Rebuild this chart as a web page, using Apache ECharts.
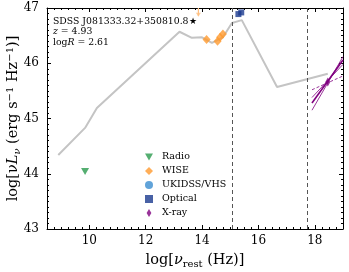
<!DOCTYPE html>
<html><head><meta charset="utf-8">
<script src="https://cdn.jsdelivr.net/npm/echarts@6/dist/echarts.min.js"></script>
<style>html,body{margin:0;padding:0;background:#fff}#c{width:349px;height:272px}</style>
</head><body><div id="c"></div>
<script>
// ---- data ----
const sedX = [8.9, 9.85, 10.27, 13.2, 13.64, 14.0, 14.35, 14.74, 15.06, 15.41, 16.66, 18.46];
const sedY = [44.34, 44.83, 45.19, 46.57, 46.46, 46.47, 46.37, 46.47, 46.73, 46.78, 45.57, 45.81];
const radioX = [9.85];
const radioY = [44.04];
const wiseX = [14.16, 14.55, 14.64, 14.74];
const wiseY = [46.43, 46.40, 46.47, 46.53];
const wiseLimX = [13.87, 13.87];
const wiseLimY = [47.0, 46.86];
const ukidssX = [];
const ukidssY = [];
const opticalX = [15.29, 15.39];
const opticalY = [46.89, 46.92];
const xrayX = [18.46];
const xrayY = [45.66];
const bowX = [17.9, 19.0];
const bowBest = [45.28, 46.06];
const bowSteep = [45.15, 46.12];
const bowShallow = [45.38, 45.98];
const bowDash = [45.52, 45.77];
const vlines = [15.07, 17.72];
const xTicks = [10, 12, 14, 16, 18];
const yTicks = [43, 44, 45, 46, 47];
const labelLines = ['SDSS J081333.32+350810.8\u2605', 'z = 4.93', 'logR = 2.61'];

const zip = (a, b) => a.map((v, i) => [v, b[i]]);
const F = 'DejaVu Serif';
const chart = echarts.init(document.getElementById('c'), null, {renderer: 'canvas'});

const xBase = {min: 8.5, max: 19, type: 'value', splitLine: {show: false}};
const yBase = {min: 43, max: 47, type: 'value', splitLine: {show: false}};
const axLine = {show: true, lineStyle: {color: '#000', width: 1}};

const option = {
  animation: false,
  grid: {left: 47, right: 6, top: 8, bottom: 43, containLabel: false, outerBoundsMode: 'none'},
  xAxis: [
    Object.assign({}, xBase, {position: 'bottom', axisLine: axLine,
      axisTick: {inside: true, length: 4, lineStyle: {color: '#000'}},
      axisLabel: {fontFamily: F, fontSize: 12, color: '#000', margin: 6, showMinLabel: false, showMaxLabel: false,
        formatter: v => xTicks.includes(v) ? String(v) : ''},
      name: '{n|log[}{i|\u03bd}{sub|rest}{n| (Hz)]}', nameLocation: 'middle', nameGap: 23, nameMoveOverlap: false,
      nameTextStyle: {fontFamily: F, color: '#000', rich: {
        n: {fontFamily: F, fontSize: 14.5, lineHeight: 17, color: '#000'},
        i: {fontFamily: F, fontSize: 14.5, lineHeight: 17, fontStyle: 'italic', color: '#000'},
        sub: {fontFamily: F, fontSize: 10, lineHeight: 10, verticalAlign: 'bottom', color: '#000'}}}}),
    Object.assign({}, xBase, {position: 'bottom', interval: 0.25, axisLine: {show: false},
      axisTick: {inside: true, length: 2, lineStyle: {color: '#000'}}, axisLabel: {show: false}}),
    Object.assign({}, xBase, {position: 'top', axisLine: axLine,
      axisTick: {inside: true, length: 4, lineStyle: {color: '#000'}}, axisLabel: {show: false}}),
    Object.assign({}, xBase, {position: 'top', interval: 0.25, axisLine: {show: false},
      axisTick: {inside: true, length: 2, lineStyle: {color: '#000'}}, axisLabel: {show: false}})
  ],
  yAxis: [
    Object.assign({}, yBase, {position: 'left', interval: 1, axisLine: axLine,
      axisTick: {inside: true, length: 4, lineStyle: {color: '#000'}},
      minorTick: {show: true, splitNumber: 10, length: 2, lineStyle: {color: '#000'}},
      axisLabel: {fontFamily: F, fontSize: 12, color: '#000', margin: 8,
        formatter: v => yTicks.includes(v) ? String(v) : ''},
      name: '{n|log[\u03bd}{i|L}{sub|\u03bd}{n| (erg s}{sup|\u22121}{n| Hz}{sup|\u22121}{n|)]}',
      nameLocation: 'middle', nameRotate: 90, nameGap: 25, nameMoveOverlap: false,
      nameTextStyle: {fontFamily: F, color: '#000', rich: {
        n: {fontFamily: F, fontSize: 14.5, lineHeight: 17, color: '#000'},
        i: {fontFamily: F, fontSize: 14.5, lineHeight: 17, fontStyle: 'italic', color: '#000'},
        sub: {fontFamily: F, fontSize: 10, lineHeight: 10, verticalAlign: 'bottom', fontStyle: 'italic', color: '#000'},
        sup: {fontFamily: F, fontSize: 10, lineHeight: 10, verticalAlign: 'top', color: '#000'}}}}),
    Object.assign({}, yBase, {position: 'right', interval: 1, axisLine: axLine,
      axisTick: {inside: true, length: 4, lineStyle: {color: '#000'}},
      minorTick: {show: true, splitNumber: 10, length: 2, lineStyle: {color: '#000'}},
      axisLabel: {show: false}})
  ],
  legend: {
    orient: 'vertical', left: 140, top: 147, padding: 5, itemWidth: 8, itemHeight: 8, itemGap: 4,
    textStyle: {fontFamily: F, fontSize: 9.5, color: '#000', lineHeight: 8, padding: [0, 0, 0, 4]},
    data: [
      {name: 'Radio', icon: 'path://M0,0 L10,0 L5,9 Z'},
      {name: 'WISE', icon: 'diamond'},
      {name: 'UKIDSS/VHS', icon: 'circle'},
      {name: 'Optical', icon: 'rect'},
      {name: 'X-ray', icon: 'path://M3,0 L6,5 L3,10 L0,5 Z'}
    ]
  },
  graphic: labelLines.map((t, i) => ({
    type: 'text', left: 53, top: 17 + i * 10.5, z: 100,
    style: {text: i === 1 ? '{i|z} = 4.93' : (i === 2 ? 'log{i|R} = 2.61' : t),
      fontFamily: F, fontSize: 9.3, fill: '#000',
      rich: {i: {fontFamily: F, fontSize: 9.3, fontStyle: 'italic', fill: '#000'}}}
  })),
  series: [
    {type: 'line', name: 'SED', data: zip(sedX, sedY), symbol: 'none', z: 1,
      lineStyle: {color: '#c4c4c4', width: 2}, silent: true,
      markLine: {symbol: 'none', silent: true, label: {show: false},
        lineStyle: {color: '#555', type: [4, 3], width: 1},
        data: vlines.map(v => ({xAxis: v}))}},
    {type: 'line', data: zip(wiseLimX, wiseLimY), symbol: 'none', lineStyle: {color: '#ffbf80', width: 1.2}, z: 3},
    {type: 'scatter', data: [[wiseLimX[1], wiseLimY[1] + 0.02]], symbol: 'path://M0,0 L10,0 L5,8 Z', symbolSize: [5, 4],
      itemStyle: {color: '#ffbf80'}, z: 3},
    {type: 'line', data: zip(bowX, bowBest), symbol: 'none', lineStyle: {color: '#800080', width: 1.6}, z: 4},
    {type: 'line', data: zip(bowX, bowSteep), symbol: 'none', lineStyle: {color: '#800080', width: 0.8}, z: 4},
    {type: 'line', data: zip(bowX, bowShallow), symbol: 'none', lineStyle: {color: '#800080', width: 0.8}, z: 4},
    {type: 'line', data: zip(bowX, bowDash), symbol: 'none', lineStyle: {color: '#800080', width: 0.8, type: [3, 2]}, z: 4},
    {type: 'scatter', name: 'Radio', data: zip(radioX, radioY), symbol: 'path://M0,0 L10,0 L5,9 Z', symbolSize: [8, 7],
      itemStyle: {color: '#2a9a4e'}, z: 5},
    {type: 'scatter', name: 'WISE', data: zip(wiseX, wiseY), symbol: 'diamond', symbolSize: [8, 9],
      itemStyle: {color: '#ff9a2e'}, z: 5},
    {type: 'scatter', name: 'UKIDSS/VHS', data: zip(ukidssX, ukidssY), symbol: 'circle', symbolSize: 7,
      itemStyle: {color: '#3a8ccf'}, z: 5},
    {type: 'scatter', name: 'Optical', data: zip(opticalX, opticalY), symbol: 'rect', symbolSize: 6,
      itemStyle: {color: '#1a3a8e'}, z: 5},
    {type: 'scatter', name: 'X-ray', data: zip(xrayX, xrayY), symbol: 'diamond', symbolSize: [5, 9],
      itemStyle: {color: '#800080'}, z: 5}
  ]
};
chart.setOption(option);
</script></body></html>
